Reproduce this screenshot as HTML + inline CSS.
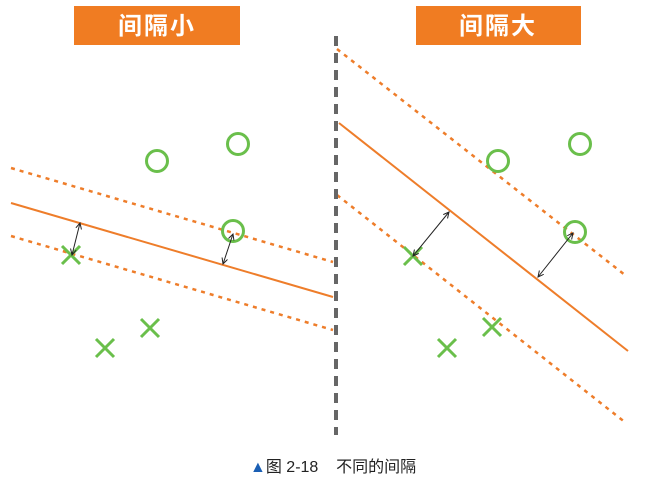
<!DOCTYPE html>
<html><head><meta charset="utf-8"><style>
body{margin:0;background:#fff;width:651px;height:485px;overflow:hidden;font-family:"Liberation Sans","Noto Sans CJK SC",sans-serif}
</style></head><body>
<svg width="651" height="485">
<defs><marker id="ah" markerWidth="8" markerHeight="8" refX="6" refY="3" orient="auto-start-reverse"><path d="M0,0 L6,3 L0,6" fill="none" stroke="#222" stroke-width="1"/></marker></defs>
<g id="root"></g>
<rect x="74" y="6" width="166" height="39" fill="#f07c22"/>
<text x="157" y="34" fill="#fff" font-size="24" font-weight="bold" text-anchor="middle" letter-spacing="2" font-family="Liberation Sans, Noto Sans CJK SC, sans-serif">间隔小</text>
<rect x="416" y="6" width="165" height="39" fill="#f07c22"/>
<text x="498" y="34" fill="#fff" font-size="24" font-weight="bold" text-anchor="middle" letter-spacing="2" font-family="Liberation Sans, Noto Sans CJK SC, sans-serif">间隔大</text>
<line x1="336" y1="36" x2="336" y2="435" stroke="#666" stroke-width="4" stroke-dasharray="10,7"/>
<text x="250" y="472" font-size="16" fill="#222" font-family="Liberation Sans, Noto Sans CJK SC, sans-serif"><tspan fill="#1a5fb4">▲</tspan>图 2-18&#160;&#160;&#160;&#160;不同的间隔</text>
</svg>
<script>
const panels=["small","large"];
const solidLines=[[[11,203],[333,297]],[[339,123],[628,351]]];
const upperMargins=[[[11,168],[333,262]],[[337,49],[625,275]]];
const lowerMargins=[[[11,236],[333,330]],[[337,195],[626,423]]];
const circles=[[[157,161],[238,144],[233,231]],[[498,161],[580,144],[575,232]]];
const crosses=[[[71,255],[105,348],[150,328]],[[413,256],[447,348],[492,327]]];
const arrows=[[[[80,223],[72,255]],[[233,234],[223,264]]],[[[449,212],[413,256]],[[573,233],[538,277]]]];
const NS="http://www.w3.org/2000/svg";
const root=document.getElementById('root');
function mk(t,a){const e=document.createElementNS(NS,t);for(const k in a)e.setAttribute(k,a[k]);root.appendChild(e);return e;}
panels.forEach((p,i)=>{
 [upperMargins[i],lowerMargins[i]].forEach((l,j)=>{
  const e=mk('line',{x1:l[0][0],y1:l[0][1],x2:l[1][0],y2:l[1][1],stroke:'#ee7d2a','stroke-width':2.5,'stroke-dasharray':'4,5'});
  
  
 });
 const s=solidLines[i];
 const sl=mk('line',{x1:s[0][0],y1:s[0][1],x2:s[1][0],y2:s[1][1],stroke:'#ee7d2a','stroke-width':2});
 
 
 circles[i].forEach(c=>{
  const e=mk('circle',{cx:c[0],cy:c[1],r:10.5,fill:'none',stroke:'#6abf4b','stroke-width':3});
  
  
 });
 crosses[i].forEach(c=>{
  const d=9;
  const e=mk('path',{d:`M${c[0]-d},${c[1]-d}L${c[0]+d},${c[1]+d}M${c[0]+d},${c[1]-d}L${c[0]-d},${c[1]+d}`,stroke:'#6abf4b','stroke-width':3,fill:'none'});
  
  
 });
 arrows[i].forEach(a=>{
  const e=mk('line',{x1:a[0][0],y1:a[0][1],x2:a[1][0],y2:a[1][1],stroke:'#222','stroke-width':1,'marker-start':'url(#ah)','marker-end':'url(#ah)'});
  
  
 });
});
</script>
</body></html>
